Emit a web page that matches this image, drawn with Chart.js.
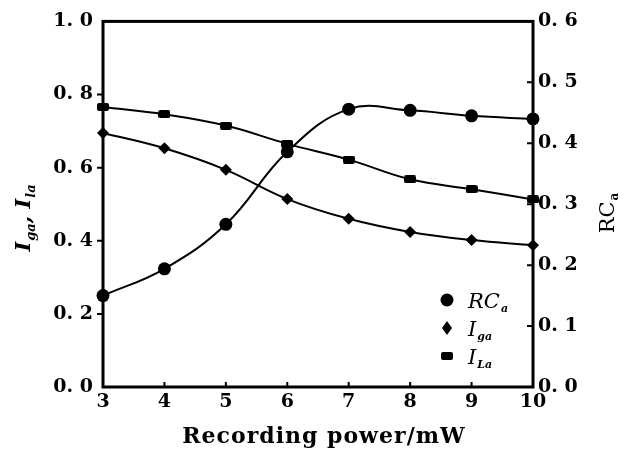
<!DOCTYPE html>
<html><head><meta charset="utf-8">
<script src="https://cdn.jsdelivr.net/npm/chart.js@4/dist/chart.umd.min.js"></script>
<style>html,body{margin:0;padding:0;background:#fff}#wrap{width:633px;height:450px;position:relative}</style>
</head><body><div id="wrap"><canvas id="c" width="633" height="450"></canvas></div>
<script>
// ---- data ----
const powers = [3, 4, 5, 6, 7, 8, 9, 10];
const rcA = [0.150, 0.194, 0.267, 0.386, 0.456, 0.454, 0.445, 0.440];
const iGa = [0.695, 0.653, 0.594, 0.514, 0.460, 0.424, 0.402, 0.388];
const iLa = [0.766, 0.746, 0.715, 0.665, 0.622, 0.568, 0.541, 0.513];
const xTicks = [3, 4, 5, 6, 7, 8, 9, 10];
const leftTicks = [0, 0.2, 0.4, 0.6, 0.8, 1.0];
const leftTickLabels = ['0. 0', '0. 2', '0. 4', '0. 6', '0. 8', '1. 0'];
const rightTicks = [0, 0.1, 0.2, 0.3, 0.4, 0.5, 0.6];
const rightTickLabels = ['0. 0', '0. 1', '0. 2', '0. 3', '0. 4', '0. 5', '0. 6'];
const xTitle = 'Recording power/mW';
const seriesNames = [['RC', 'a'], ['I', 'ga'], ['I', 'La']];
const leftTitle = [['I', 'ga'], [', ', ''], ['I', 'la']];
const rightTitle = [['RC', 'a']];

const SERIF = '"DejaVu Serif", "Liberation Serif", serif';

function rectMarker(w, h) {
  const c = document.createElement('canvas');
  c.width = w; c.height = h;
  const g = c.getContext('2d');
  g.fillStyle = '#000';
  g.beginPath();
  g.roundRect(0, 0, w, h, 2);
  g.fill();
  return c;
}
const rectImg = rectMarker(12, 8);

function drawMarker(ctx, kind, x, y) {
  ctx.save();
  ctx.fillStyle = '#000';
  if (kind === 0) { ctx.beginPath(); ctx.arc(x, y, 6.5, 0, Math.PI * 2); ctx.fill(); }
  else if (kind === 1) { ctx.beginPath(); ctx.moveTo(x, y - 7); ctx.lineTo(x + 5, y); ctx.lineTo(x, y + 7); ctx.lineTo(x - 5, y); ctx.closePath(); ctx.fill(); }
  else { ctx.drawImage(rectImg, x - 6, y - 4); }
  ctx.restore();
}

function richWidth(ctx, parts, mainFont, subFont) {
  let w = 0;
  parts.forEach(p => {
    ctx.font = mainFont; w += ctx.measureText(p[0]).width;
    if (p[1]) { ctx.font = subFont; w += ctx.measureText(p[1]).width + 1; }
  });
  return w;
}
function drawRich(ctx, parts, x, y, mainFont, subFont, subDy) {
  ctx.textBaseline = 'alphabetic';
  ctx.textAlign = 'left';
  let cx = x;
  parts.forEach(p => {
    ctx.font = mainFont; ctx.fillText(p[0], cx, y); cx += ctx.measureText(p[0]).width;
    if (p[1]) { ctx.font = subFont; cx += 1; ctx.fillText(p[1], cx, y + subDy); cx += ctx.measureText(p[1]).width; }
  });
}

const decor = {
  id: 'decor',
  beforeDatasetsDraw(chart) {
    const ctx = chart.ctx, a = chart.chartArea;
    const sx = chart.scales.x, sl = chart.scales.yL, sr = chart.scales.yR;
    ctx.save();
    ctx.strokeStyle = '#000';
    ctx.lineWidth = 3;
    ctx.strokeRect(a.left, a.top, a.right - a.left, a.bottom - a.top);
    ctx.lineWidth = 2;
    ctx.beginPath();
    leftTicks.forEach(v => { if (v > 0 && v < 1) { const y = sl.getPixelForValue(v); ctx.moveTo(a.left - 6, y); ctx.lineTo(a.left, y); } });
    rightTicks.forEach(v => { if (v > 0 && v < 0.6) { const y = sr.getPixelForValue(v); ctx.moveTo(a.right - 6, y); ctx.lineTo(a.right, y); } });
    xTicks.forEach(v => { if (v > 3 && v < 10) { const x = sx.getPixelForValue(v); ctx.moveTo(x, a.bottom); ctx.lineTo(x, a.bottom - 5); } });
    ctx.stroke();
    ctx.restore();
  },
  afterDraw(chart) {
    const ctx = chart.ctx;
    ctx.save();
    ctx.fillStyle = '#000';
    // x title
    ctx.save();
    ctx.font = 'bold 22px ' + SERIF;
    ctx.letterSpacing = '1px';
    ctx.textAlign = 'center';
    ctx.textBaseline = 'alphabetic';
    ctx.fillText(xTitle, 324, 443);
    ctx.restore();
    // left title
    const mf = 'italic bold 21px ' + SERIF, sf = 'italic bold 13px ' + SERIF;
    ctx.save();
    ctx.translate(30, 218);
    ctx.rotate(-Math.PI / 2);
    let w = richWidth(ctx, leftTitle, mf, sf);
    drawRich(ctx, leftTitle, -w / 2, 0, mf, sf, 5);
    ctx.restore();
    // right title
    const mf2 = '21px ' + SERIF, sf2 = 'bold 12px ' + SERIF;
    ctx.save();
    ctx.translate(614, 213);
    ctx.rotate(-Math.PI / 2);
    w = richWidth(ctx, rightTitle, mf2, sf2);
    drawRich(ctx, rightTitle, -w / 2, 0, mf2, sf2, 4);
    ctx.restore();
    // legend
    const lx = 447, ly = [300, 328, 356], tx = 468;
    seriesNames.forEach((s, i) => {
      drawMarker(ctx, i, lx, ly[i]);
      drawRich(ctx, [s], tx, ly[i] + 8, 'italic 21px ' + SERIF, 'italic bold 11px ' + SERIF, 4);
    });
    ctx.restore();
  }
};

const common = { borderColor: '#000', backgroundColor: '#000', pointBackgroundColor: '#000', pointBorderColor: '#000', borderWidth: 2, tension: 0.4, clip: false, pointBorderWidth: 0 };

new Chart(document.getElementById('c'), {
  type: 'line',
  data: {
    labels: powers,
    datasets: [
      Object.assign({ label: 'RCa', data: powers.map((p, i) => ({ x: p, y: rcA[i] })), yAxisID: 'yR', pointStyle: 'circle', pointRadius: 6.5 }, common),
      Object.assign({ label: 'Iga', data: powers.map((p, i) => ({ x: p, y: iGa[i] })), yAxisID: 'yL', pointStyle: 'rectRot', pointRadius: 6 }, common),
      Object.assign({ label: 'ILa', data: powers.map((p, i) => ({ x: p, y: iLa[i] })), yAxisID: 'yL', pointStyle: rectImg }, common)
    ]
  },
  options: {
    responsive: false,
    animation: false,
    events: [],
    layout: { padding: { top: 18, left: 0, right: 0, bottom: 0 } },
    plugins: { legend: { display: false }, tooltip: { enabled: false } },
    scales: {
      x: {
        type: 'linear', min: 3, max: 10,
        afterBuildTicks: s => { s.ticks = xTicks.map(v => ({ value: v })); },
        afterFit: s => { s.height = 63; },
        grid: { display: false, drawTicks: false },
        border: { display: false },
        ticks: { color: '#000', padding: 4, maxRotation: 0, autoSkip: false, font: { family: SERIF, size: 19, weight: 'bold' }, callback: v => String(v) }
      },
      yL: {
        type: 'linear', position: 'left', min: 0, max: 1,
        afterBuildTicks: s => { s.ticks = leftTicks.map(v => ({ value: v })); },
        afterFit: s => { s.width = 103; },
        grid: { display: false, drawTicks: false },
        border: { display: false },
        ticks: { color: '#000', padding: 10, font: { family: SERIF, size: 19, weight: 'bold' }, callback: (v, i) => leftTickLabels[i] }
      },
      yR: {
        type: 'linear', position: 'right', min: 0, max: 0.6,
        afterBuildTicks: s => { s.ticks = rightTicks.map(v => ({ value: v })); },
        afterFit: s => { s.width = 100; },
        grid: { display: false, drawTicks: false },
        border: { display: false },
        ticks: { color: '#000', padding: 5, font: { family: SERIF, size: 19, weight: 'bold' }, callback: (v, i) => rightTickLabels[i] }
      }
    }
  },
  plugins: [decor]
});
</script>
</body></html>
